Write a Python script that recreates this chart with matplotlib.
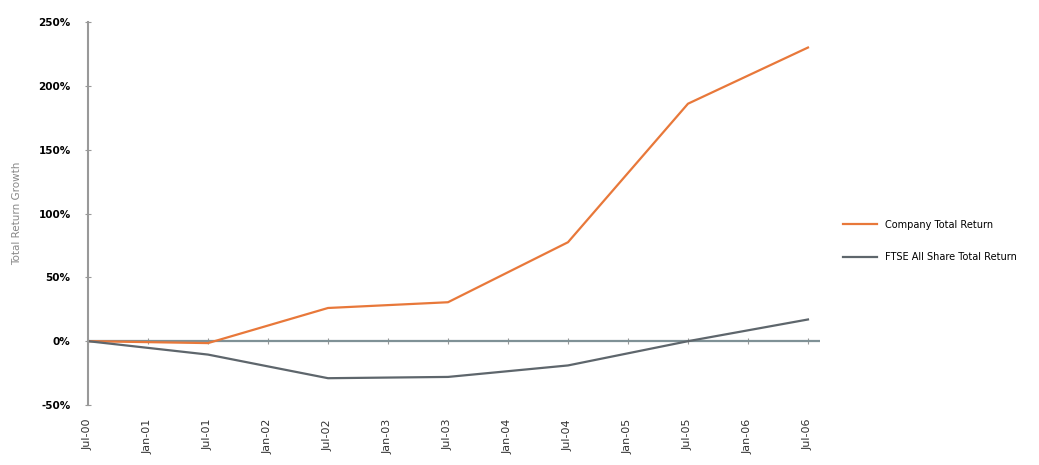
import matplotlib.pyplot as plt
import numpy as np

# half-year tick labels, data points at each July
tick_labels = ['Jul-00', 'Jan-01', 'Jul-01', 'Jan-02', 'Jul-02', 'Jan-03', 'Jul-03',
               'Jan-04', 'Jul-04', 'Jan-05', 'Jul-05', 'Jan-06', 'Jul-06']
point_labels = ['Jul-00', 'Jul-01', 'Jul-02', 'Jul-03', 'Jul-04', 'Jul-05', 'Jul-06']
company = [0, -1.5, 26, 30.5, 77.5, 186, 230]
ftse = [0, -10.5, -29, -28, -19, 0, 17]

yticks = [-50, 0, 50, 100, 150, 200, 250]

fig = plt.figure(figsize=(10.39, 4.65), dpi=100)
ax = fig.add_axes([0.0847, 0.129, 0.7045, 0.8237])

xpos = [tick_labels.index(p) for p in point_labels]
ax.plot(xpos, company, color='#E8783A', linewidth=1.6, label='Company Total Return')
ax.plot(xpos, ftse, color='#5E666C', linewidth=1.6, label='FTSE All Share Total Return')

ax.axhline(0, color='#7F9196', linewidth=1.6, zorder=1)

ax.set_xlim(0, 12.2)
ax.set_ylim(-50, 250)
ax.set_yticks(yticks)
ax.set_yticklabels([f'{v}%' for v in yticks], fontsize=7.5, fontweight='bold')
ax.set_xticks(np.arange(len(tick_labels)))
ax.set_xticklabels(tick_labels, rotation=90, fontsize=8, color='#333333')
ax.tick_params(axis='x', length=0, pad=10)
ax.tick_params(axis='y', direction='inout', length=5, color='#999999', pad=10)

# small tick marks sit on the zero line
sec = ax.secondary_xaxis(1 / 6)
sec.set_xticks(np.arange(len(tick_labels)))
sec.tick_params(direction='inout', length=5, color='#999999', labelbottom=False, labeltop=False)
sec.spines['bottom'].set_visible(False)
sec.spines['top'].set_visible(False)

for s in ['top', 'right', 'bottom']:
    ax.spines[s].set_visible(False)
ax.spines['left'].set_color('#999999')
ax.spines['left'].set_linewidth(1.5)

ax.set_ylabel('Total Return Growth', fontsize=7.5, color='#888888', labelpad=12)

ax.legend(loc='center left', bbox_to_anchor=(1.02, 0.428), frameon=False, fontsize=7,
          handlelength=3.5, labelspacing=2.3)

plt.savefig('out.png', dpi=100)
